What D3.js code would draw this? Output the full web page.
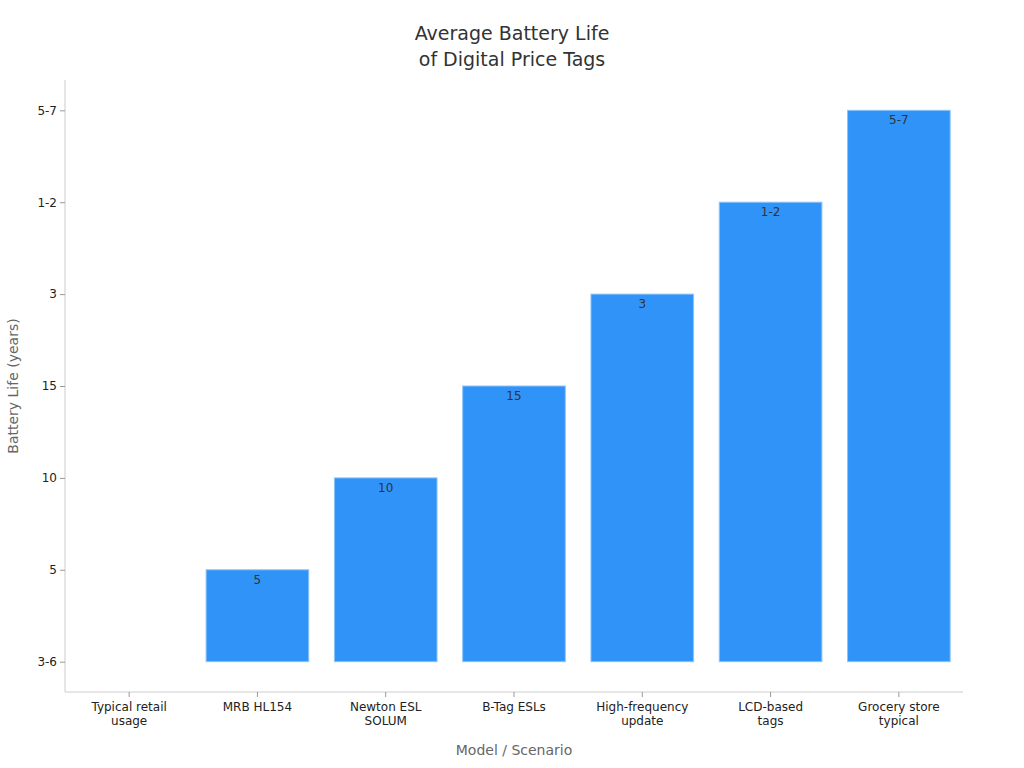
<!DOCTYPE html>
<html><head><meta charset="utf-8">
<script src="https://cdn.jsdelivr.net/npm/d3@7"></script>
<style>body{margin:0;background:#fff;font-family:"DejaVu Sans",sans-serif}</style>
</head><body><svg id="c" width="1024" height="768"></svg>
<script>
const categories=["Typical retail\nusage","MRB HL154","Newton ESL\nSOLUM","B-Tag ESLs","High-frequency\nupdate","LCD-based\ntags","Grocery store\ntypical"];
const yLevels=["3-6","5","10","15","3","1-2","5-7"];
const values=["3-6","5","10","15","3","1-2","5-7"];
const svg=d3.select("#c");
const m={l:65,r:963,t:80,b:692};
const x=d3.scaleBand().domain(categories).range([m.l,m.r]).paddingInner(0.2).paddingOuter(0.1);
const y=d3.scalePoint().domain(yLevels).range([m.b,m.t]).padding(0.33);
const base=y(yLevels[0]);
svg.append("text").attr("x",512).attr("y",40).attr("text-anchor","middle").attr("font-size",19).attr("fill","#333").text("Average Battery Life");
svg.append("text").attr("x",512).attr("y",66).attr("text-anchor","middle").attr("font-size",19).attr("fill","#333").text("of Digital Price Tags");
svg.append("g").selectAll("rect").data(categories).join("rect")
 .attr("x",d=>x(d)).attr("width",x.bandwidth())
 .attr("y",(d,i)=>y(values[i])).attr("height",(d,i)=>base-y(values[i]))
 .attr("fill","#2f93f8").attr("stroke","#8cc4fb").attr("stroke-width",1);
svg.append("g").selectAll("text").data(categories).join("text")
 .filter((d,i)=>i>0)
 .attr("x",d=>x(d)+x.bandwidth()/2).attr("y",(d,i)=>y(values[i+1])+14)
 .attr("text-anchor","middle").attr("font-size",12).attr("fill","#333").text((d,i)=>values[i+1]);
const ya=svg.append("g").attr("transform",`translate(${m.l},0)`).call(d3.axisLeft(y).tickSize(5).tickSizeOuter(0));
const xa=svg.append("g").attr("transform",`translate(0,${m.b})`).call(d3.axisBottom(x).tickSize(5).tickSizeOuter(0));
[ya,xa].forEach(a=>{a.select(".domain").attr("stroke","#ccc");a.selectAll(".tick line").attr("stroke","#999");a.selectAll("text").attr("font-size",12).attr("fill","#222").attr("font-family","DejaVu Sans");});
ya.selectAll(".domain").attr("d",`M0,${m.t}V${m.b}`);
xa.selectAll(".domain").attr("d",`M${m.l},0H${m.r}`);
xa.selectAll(".tick text").each(function(d){const t=d3.select(this);const lines=d.split("\n");t.text(null);
 lines.forEach((l,i)=>t.append("tspan").attr("x",0).attr("dy",i?"1.2em":"0.71em").text(l));}).attr("y",10);
svg.append("text").attr("x",514).attr("y",755).attr("text-anchor","middle").attr("font-size",14).attr("fill","#666").text("Model / Scenario");
svg.append("text").attr("transform","translate(18,386) rotate(-90)").attr("text-anchor","middle").attr("font-size",14).attr("fill","#666").text("Battery Life (years)");
</script></body></html>
